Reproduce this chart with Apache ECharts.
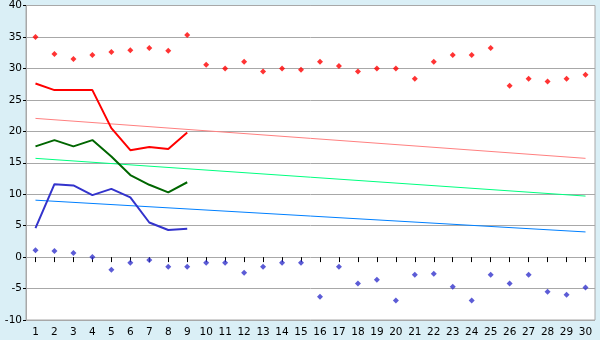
<!DOCTYPE html>
<html><head><meta charset="utf-8">
<script src="https://cdn.jsdelivr.net/npm/echarts@6/dist/echarts.min.js"></script>
<style>html,body{margin:0;padding:0;background:#daeff6;}#c{width:600px;height:340px;}</style>
</head><body><div id="c"></div>
<script>
const days = ['1','2','3','4','5','6','7','8','9','10','11','12','13','14','15','16','17','18','19','20','21','22','23','24','25','26','27','28','29','30'];
const maxPoints = [35.0,32.3,31.5,32.15,32.6,32.9,33.25,32.8,35.3,30.6,30.0,31.05,29.5,30.0,29.8,31.05,30.4,29.5,30.0,30.0,28.35,31.05,32.15,32.15,33.25,27.25,28.35,27.9,28.35,29.0];
const minPoints = [1.1,0.95,0.65,0.0,-2.0,-0.9,-0.45,-1.55,-1.55,-0.9,-0.9,-2.5,-1.55,-0.9,-0.9,-6.3,-1.55,-4.2,-3.6,-6.9,-2.8,-2.65,-4.7,-6.9,-2.8,-4.2,-2.8,-5.5,-6.0,-4.85];
const redLine = [27.6,26.55,26.55,26.55,20.5,17.0,17.5,17.2,19.8];
const greenLine = [17.6,18.6,17.6,18.6,16.0,13.05,11.5,10.3,11.9];
const blueLine = [4.6,11.6,11.4,9.85,10.85,9.5,5.5,4.3,4.5];
const redTrend = [22.05,15.7];
const greenTrend = [15.7,9.7];
const blueTrend = [9.05,4.0];
const yTicks = {min:-10,max:40,interval:5};

function ends(a){const d=days.map(()=>null);d[0]=a[0];d[days.length-1]=a[1];return d;}
const chart = echarts.init(document.getElementById('c'),null,{renderer:'canvas'});
const font = 'DejaVu Sans';
chart.setOption({
  animation:false,
  backgroundColor:'#daeff6',
  grid:{left:26,right:5,top:5,bottom:20,show:true,backgroundColor:'#ffffff',borderColor:'#a8a8a8',borderWidth:1},
  xAxis:{type:'category',data:days,boundaryGap:true,
    axisLine:{show:false},
    axisTick:{show:true,alignWithLabel:true,length:5,lineStyle:{color:'#000'}},
    axisLabel:{color:'#000',fontFamily:font,fontSize:10.5,margin:7,interval:0},
    splitLine:{show:false}},
  yAxis:{type:'value',min:yTicks.min,max:yTicks.max,interval:yTicks.interval,
    axisLine:{show:true,lineStyle:{color:'#a8a8a8'}},
    axisTick:{show:true,length:3,lineStyle:{color:'#000'}},
    axisLabel:{color:'#000',fontFamily:font,fontSize:10.5,margin:4},
    splitLine:{show:true,lineStyle:{color:'#a8a8a8',width:1}}},
  series:[
    {type:'line',data:ends(redTrend),connectNulls:true,symbol:'none',lineStyle:{color:'#ff8080',width:1},z:1},
    {type:'line',data:ends(greenTrend),connectNulls:true,symbol:'none',lineStyle:{color:'#00ff80',width:1},z:1},
    {type:'line',data:ends(blueTrend),connectNulls:true,symbol:'none',lineStyle:{color:'#0080ff',width:1},z:1},
    {type:'line',data:redLine,symbol:'none',lineStyle:{color:'#ff0000',width:2},z:2},
    {type:'line',data:greenLine,symbol:'none',lineStyle:{color:'#006600',width:2},z:2},
    {type:'line',data:blueLine,symbol:'none',lineStyle:{color:'#3333cc',width:2},z:2},
    {type:'scatter',data:maxPoints,symbol:'diamond',symbolSize:6,itemStyle:{color:'#ff0000'},z:3},
    {type:'scatter',data:minPoints,symbol:'diamond',symbolSize:6,itemStyle:{color:'#3333cc'},z:3}
  ]
});
</script></body></html>
